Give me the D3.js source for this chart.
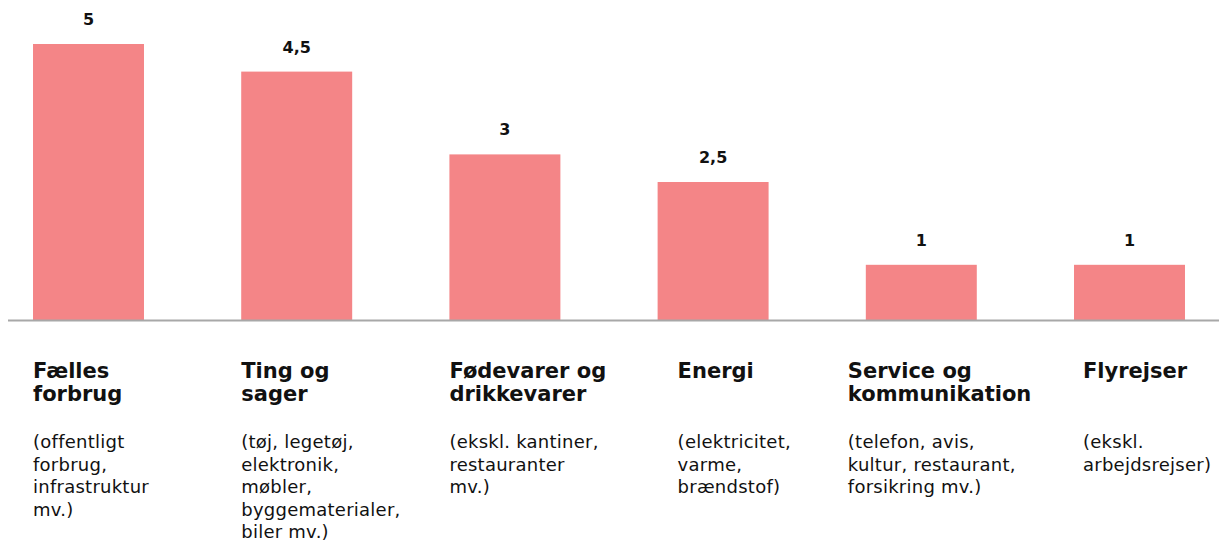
<!DOCTYPE html>
<html>
<head>
<meta charset="utf-8">
<script src="https://cdn.jsdelivr.net/npm/d3@7"></script>
<style>
  body { margin: 0; background: #fff; }
  svg { display: block; font-family: "DejaVu Sans", sans-serif; }
</style>
</head>
<body>
<svg width="1219" height="546"></svg>
<script>
// data
var categories = ["Fælles forbrug", "Ting og sager", "Fødevarer og drikkevarer", "Energi", "Service og kommunikation", "Flyrejser"];
var values = [5, 4.5, 3, 2.5, 1, 1];
var valueLabels = ["5", "4,5", "3", "2,5", "1", "1"];
var titleLines = [
  ["Fælles", "forbrug"],
  ["Ting og", "sager"],
  ["Fødevarer og", "drikkevarer"],
  ["Energi"],
  ["Service og", "kommunikation"],
  ["Flyrejser"]
];
var noteLines = [
  ["(offentligt", "forbrug,", "infrastruktur", "mv.)"],
  ["(tøj, legetøj,", "elektronik,", "møbler,", "byggematerialer,", "biler mv.)"],
  ["(ekskl. kantiner,", "restauranter", "mv.)"],
  ["(elektricitet,", "varme,", "brændstof)"],
  ["(telefon, avis,", "kultur, restaurant,", "forsikring mv.)"],
  ["(ekskl.", "arbejdsrejser)"]
];

const svg = d3.select("svg");
var barColor = "#f48587";
var baseY = 320;

var x = d3.scaleBand()
    .domain(categories)
    .range([-15.6, 1233.6])
    .paddingInner(0.467)
    .paddingOuter(0.2335);

var y = d3.scaleLinear()
    .domain([0, 5])
    .range([baseY, 44]);

// label blocks were nudged by hand in the original layout
var labelShift = [0, 0, 0, 20, -18, 9];

svg.append("g")
  .selectAll("rect")
  .data(values)
  .join("rect")
    .attr("x", (d, i) => x(categories[i]))
    .attr("y", d => y(d))
    .attr("width", x.bandwidth())
    .attr("height", d => baseY - y(d))
    .attr("fill", barColor);

svg.append("line")
    .attr("x1", 8)
    .attr("x2", 1219)
    .attr("y1", baseY + 0.5)
    .attr("y2", baseY + 0.5)
    .attr("stroke", "#a8a8a8")
    .attr("stroke-width", 2);

svg.append("g")
  .selectAll("text")
  .data(values)
  .join("text")
    .attr("x", (d, i) => x(categories[i]) + x.bandwidth() / 2)
    .attr("y", d => y(d) - 19)
    .attr("text-anchor", "middle")
    .attr("font-size", 16)
    .attr("font-weight", 700)
    .attr("fill", "#111")
    .text((d, i) => valueLabels[i]);

// category labels
var lab = svg.append("g")
  .selectAll("g")
  .data(categories)
  .join("g")
    .attr("transform", (d, i) => `translate(${x(d) + labelShift[i]},0)`);

lab.append("text")
    .attr("font-size", 21)
    .attr("font-weight", 700)
    .attr("fill", "#111")
  .selectAll("tspan")
  .data((d, i) => titleLines[i])
  .join("tspan")
    .attr("x", 0)
    .attr("y", (d, j) => 378 + j * 22.5)
    .text(d => d);

lab.append("text")
    .attr("font-size", 18)
    .attr("letter-spacing", 0.25)
    .attr("fill", "#111")
  .selectAll("tspan")
  .data((d, i) => noteLines[i])
  .join("tspan")
    .attr("x", 0)
    .attr("y", (d, j) => 448 + j * 22.5)
    .text(d => d);
</script>
</body>
</html>
